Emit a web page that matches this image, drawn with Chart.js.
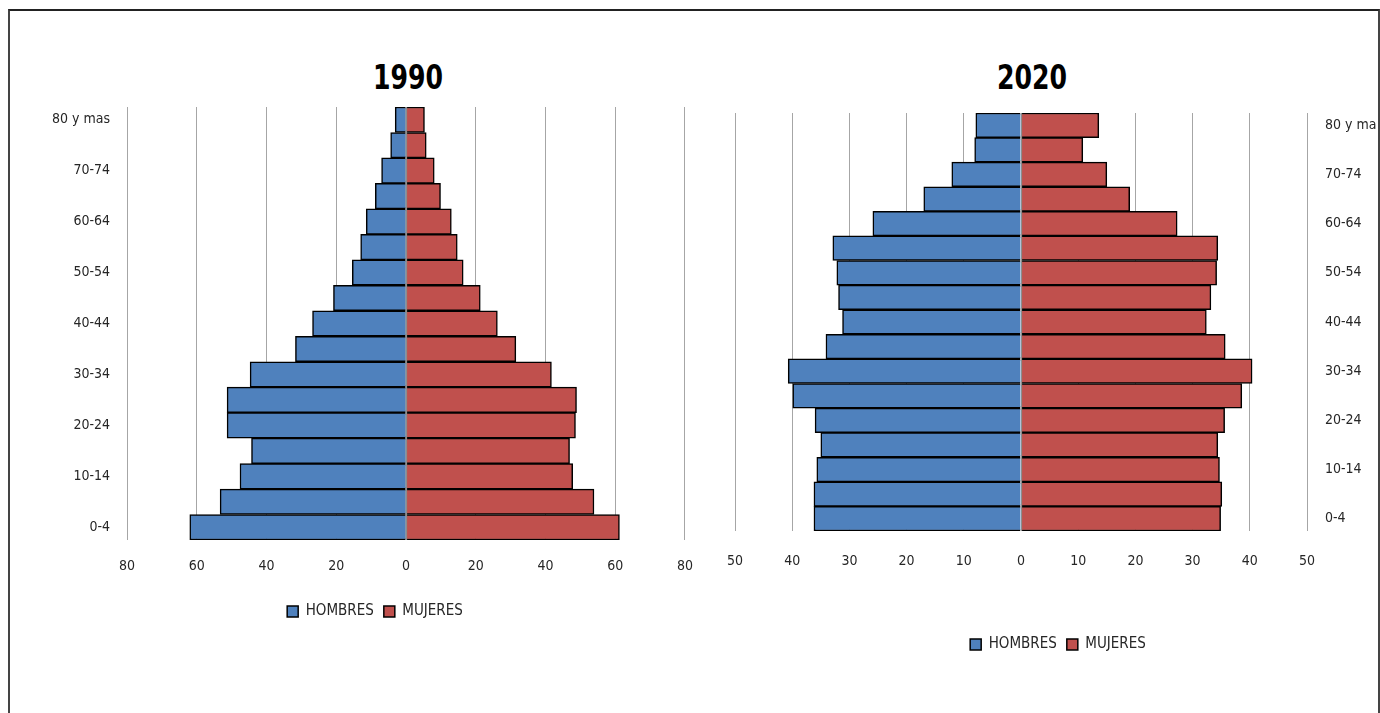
<!DOCTYPE html>
<html lang="es">
<head>
<meta charset="utf-8">
<title>Pirámides de población 1990 - 2020</title>
<script src="https://cdn.jsdelivr.net/npm/chart.js@4.4.1/dist/chart.umd.min.js"></script>
<style>
  html, body { margin: 0; padding: 0; background: #fff; width: 1380px; height: 713px; overflow: hidden; }
  .frame {
    position: absolute; left: 8px; top: 9px; width: 1368px; height: 720px;
    border-top: 2px solid #222; border-left: 2px solid #444; border-right: 2px solid #444;
  }
  .title {
    position: absolute; width: 200px; text-align: center;
    font-family: 'DejaVu Sans Condensed', sans-serif;
    font-weight: bold; font-size: 28px; line-height: 40px; color: #000;
    transform: scaleY(1.2);
  }
  .chart-box { position: absolute; }
  .clip { position: absolute; left: 700px; top: 0; width: 677px; height: 713px; overflow: hidden; }
</style>
</head>
<body>
<div class="frame"></div>

<div class="title" style="left:308px; top:58px;">1990</div>
<div class="title" style="left:932px; top:58px;">2020</div>

<div class="chart-box" style="left:10px; top:40px; width:701px; height:609px;">
  <canvas id="pyramid-1990"></canvas>
</div>
<div class="clip">
  <div class="chart-box" style="left:0; top:40px; width:681px; height:642px;">
    <canvas id="pyramid-2020"></canvas>
  </div>
</div>

<script>
// Grupos de edad, de arriba a abajo
const AGE_GROUPS = ['80 y mas', '75-79', '70-74', '65-69', '60-64', '55-59', '50-54', '45-49',
  '40-44', '35-39', '30-34', '25-29', '20-24', '15-19', '10-14', '5-9', '0-4'];

// 1990
const HOMBRES_1990 = [3.1, 4.4, 7.0, 8.8, 11.4, 13.0, 15.4, 20.8, 26.8, 31.7, 44.7, 51.3, 51.3, 44.3, 47.6, 53.3, 62.0];
const MUJERES_1990 = [5.3, 5.8, 8.1, 9.9, 13.0, 14.7, 16.4, 21.3, 26.2, 31.5, 41.7, 48.9, 48.6, 46.9, 47.8, 53.9, 61.2];

// 2020
const HOMBRES_2020 = [7.9, 8.1, 12.1, 17.0, 25.9, 32.9, 32.2, 31.9, 31.2, 34.1, 40.7, 39.9, 36.0, 35.0, 35.7, 36.2, 36.2];
const MUJERES_2020 = [13.6, 10.8, 15.0, 19.0, 27.3, 34.4, 34.2, 33.2, 32.4, 35.7, 40.4, 38.6, 35.6, 34.4, 34.7, 35.1, 34.9];

// Ejes
const X_LIMIT_1990 = 80;
const X_STEP_1990 = 20;
const X_LIMIT_2020 = 50;
const X_STEP_2020 = 10;

const FONT = "'DejaVu Sans Condensed', sans-serif";
const TEXT_COLOR = '#262626';
const GRID_COLOR = '#a6a6a6';
const BLUE = '#4f81bd';
const RED = '#c0504d';

// gray zero line drawn over the bars
const zeroLinePlugin = {
  id: 'zeroLine',
  afterDatasetsDraw(chart) {
    const { ctx, chartArea, scales } = chart;
    const x = Math.round(scales.x.getPixelForValue(0)) + 0.5;
    ctx.save();
    ctx.strokeStyle = '#8c8c8c';
    ctx.lineWidth = 1.2;
    ctx.beginPath();
    ctx.moveTo(x, chartArea.top);
    ctx.lineTo(x, chartArea.bottom);
    ctx.stroke();
    ctx.restore();
  }
};

// the legend is not centred on the canvas in the original, move it sideways
const legendShiftPlugin = {
  id: 'legendShift',
  afterLayout(chart, args, opts) {
    const legend = chart.legend;
    if (!legend || opts.center == null) return;
    const dx = opts.center - (legend.left + legend.right) / 2;
    legend.left += dx;
    legend.right += dx;
  }
};

function buildPyramid(canvasId, hombres, mujeres, cfg) {
  const canvas = document.getElementById(canvasId);
  return new Chart(canvas, {
    type: 'bar',
    data: {
      labels: AGE_GROUPS,
      datasets: [
        {
          label: 'HOMBRES',
          data: hombres.map(v => -v),
          backgroundColor: BLUE,
          borderColor: '#000',
          borderWidth: 1.5,
          barPercentage: 1,
          categoryPercentage: 1
        },
        {
          label: 'MUJERES',
          data: mujeres,
          backgroundColor: RED,
          borderColor: '#000',
          borderWidth: 1.5,
          barPercentage: 1,
          categoryPercentage: 1
        }
      ]
    },
    options: {
      indexAxis: 'y',
      responsive: true,
      maintainAspectRatio: false,
      animation: false,
      layout: { padding: cfg.padding },
      plugins: {
        legend: {
          position: 'bottom',
          labels: {
            color: TEXT_COLOR,
            font: { family: FONT, size: 15 },
            boxWidth: 11,
            boxHeight: 11,
            padding: 10
          }
        },
        legendShift: { center: cfg.legendCenter },
        title: { display: false },
        tooltip: { enabled: false }
      },
      scales: {
        x: {
          stacked: true,
          min: -cfg.limit,
          max: cfg.limit,
          ticks: {
            stepSize: cfg.step,
            color: TEXT_COLOR,
            font: { family: FONT, size: 14 },
            padding: cfg.xTickPadding,
            maxRotation: 0,
            callback: val => Math.abs(val)
          },
          grid: { color: GRID_COLOR, lineWidth: 1, drawTicks: false },
          border: { display: false },
          afterFit: scale => { scale.height = cfg.xHeight; }
        },
        y: {
          stacked: true,
          position: cfg.yPosition,
          ticks: {
            autoSkip: false,
            color: TEXT_COLOR,
            font: { family: FONT, size: 14 },
            padding: cfg.yTickPadding,
            callback: function (val, i) {
              return i % 2 === 0 ? this.getLabelForValue(val) : '';
            }
          },
          grid: { display: false, drawTicks: false },
          border: { display: false },
          afterFit: scale => { scale.width = cfg.yWidth; }
        }
      }
    },
    plugins: [zeroLinePlugin, legendShiftPlugin]
  });
}

buildPyramid('pyramid-1990', HOMBRES_1990, MUJERES_1990, {
  limit: X_LIMIT_1990,
  step: X_STEP_1990,
  padding: { top: 67, left: 0, right: 0, bottom: 20 },
  yPosition: 'left',
  yWidth: 117,
  yTickPadding: 17,
  xHeight: 54,
  xTickPadding: 18,
  legendCenter: 365
});

buildPyramid('pyramid-2020', HOMBRES_2020, MUJERES_2020, {
  limit: X_LIMIT_2020,
  step: X_STEP_2020,
  padding: { top: 73, left: 35, right: 0, bottom: 20 },
  yPosition: 'right',
  yWidth: 74,
  yTickPadding: 18,
  xHeight: 96,
  xTickPadding: 22,
  legendCenter: 358
});
</script>
</body>
</html>
